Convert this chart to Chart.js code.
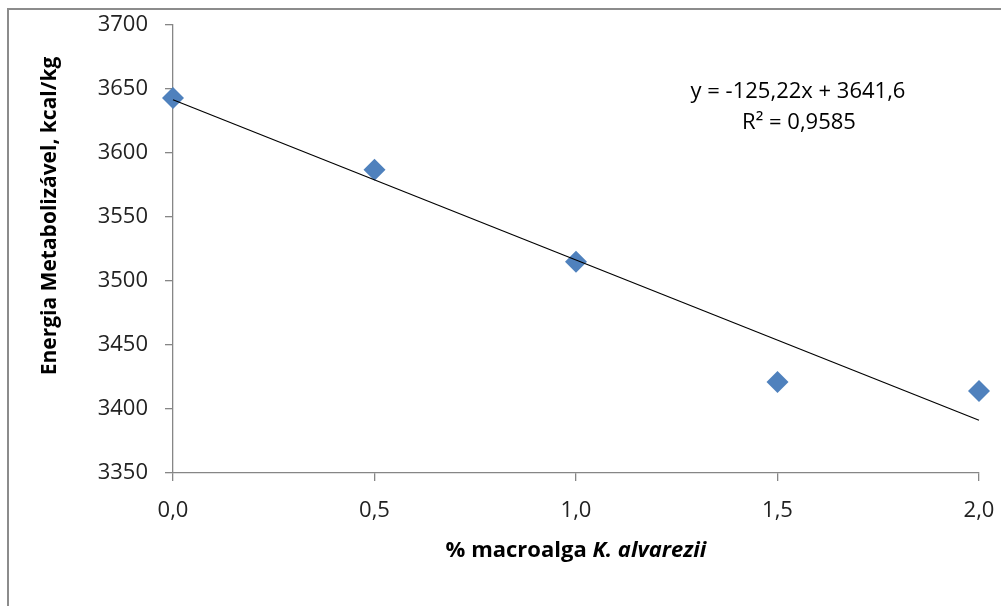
<!DOCTYPE html>
<html>
<head>
<meta charset="utf-8">
<script src="https://cdn.jsdelivr.net/npm/chart.js@4.4.0/dist/chart.umd.min.js"></script>
<style>
  body { margin: 0; background: #fff; }
  #wrap { width: 1001px; height: 606px; position: relative; }
</style>
</head>
<body>
<div id="wrap"><canvas id="chart"></canvas></div>
<script>
"use strict";

// data
var doses = [0, 0.5, 1.0, 1.5, 2.0];
var energia = [3643, 3587, 3515, 3421, 3414];

// trend line ends, from the equation printed on the chart
var trendX = [0, 2];
var trendY = [3641.6, 3391.16];

var eqLines = ["y = -125,22x + 3641,6", "R² = 0,9585"];
var yTitle = "Energia Metabolizável, kcal/kg";
var xTitleParts = [["% macroalga ", "bold 22px 'Open Sans'"], ["K. alvarezii", "italic bold 22px 'Open Sans'"]];

var axisGrey = "#868686";
var fontFam = "'Open Sans', sans-serif";

const $ = id => document.getElementById(id);

var toPoints = function(xs, ys) {
  var out = [];
  for (var i = 0; i < xs.length; i++) out.push({ x: xs[i], y: ys[i] });
  return out;
};

var decorations = {
  id: "decorations",
  beforeDraw: function(chart) {
    var ctx = chart.ctx;
    ctx.save();
    ctx.fillStyle = "#fff";
    ctx.fillRect(0, 0, chart.width, chart.height);
    ctx.strokeStyle = "#8c8c8c";
    ctx.lineWidth = 2;
    ctx.strokeRect(8, 9, 1200, 800);
    ctx.restore();
  },
  afterDraw: function(chart) {
    var ctx = chart.ctx;
    ctx.save();
    ctx.fillStyle = "#000";
    ctx.textBaseline = "middle";

    // y title
    ctx.save();
    ctx.translate(50, 216);
    ctx.rotate(-Math.PI / 2);
    ctx.textAlign = "center";
    ctx.font = "bold 21px " + fontFam;
    ctx.fillText(yTitle, 0, 0);
    ctx.restore();

    // x title, mixed styles
    var total = 0;
    xTitleParts.forEach(function(p) { ctx.font = p[1]; total += ctx.measureText(p[0]).width; });
    var x = 576 - total / 2;
    ctx.textAlign = "left";
    xTitleParts.forEach(function(p) {
      ctx.font = p[1];
      ctx.fillText(p[0], x, 551);
      x += ctx.measureText(p[0]).width;
    });

    // equation
    ctx.textAlign = "center";
    ctx.font = "22px " + fontFam;
    ctx.fillText(eqLines[0], 798, 92);
    ctx.fillText(eqLines[1], 799, 123);
    ctx.restore();
  }
};

var ctx = $("chart").getContext("2d");
var myChart = new Chart(ctx, {
  type: "scatter",
  data: {
    datasets: [{
      label: "EM",
      data: toPoints(doses, energia),
      pointStyle: "rectRot",
      pointRadius: 11,
      pointHoverRadius: 11,
      backgroundColor: "#4F81BD",
      borderColor: "#4F81BD",
      borderWidth: 0,
      clip: false,
      order: 1
    }, {
      label: "trend",
      type: "line",
      data: toPoints(trendX, trendY),
      borderColor: "#000",
      borderWidth: 1.2,
      pointRadius: 0,
      fill: false,
      clip: false,
      order: 0
    }]
  },
  options: {
    responsive: true,
    maintainAspectRatio: false,
    animation: false,
    layout: { autoPadding: false, padding: { left: 0, top: 25, right: 22, bottom: 0 } },
    plugins: { legend: { display: false }, tooltip: { enabled: false } },
    scales: {
      x: {
        type: "linear",
        min: 0,
        max: 2,
        afterFit: function(s) { s.height = 133; s.paddingLeft = 0; s.paddingRight = 0; },
        ticks: {
          stepSize: 0.5,
          padding: 17,
          color: "#222",
          font: { family: fontFam, size: 22 },
          callback: function(v) { return v.toFixed(1).replace(".", ","); }
        },
        grid: { drawOnChartArea: false, tickLength: 8, color: axisGrey, lineWidth: 1.3 },
        border: { color: axisGrey, width: 1.3 }
      },
      y: {
        min: 3350,
        max: 3700,
        afterFit: function(s) { s.width = 173; s.paddingTop = 0; s.paddingBottom = 0; },
        ticks: {
          stepSize: 50,
          padding: 17,
          color: "#222",
          font: { family: fontFam, size: 22 },
          callback: function(v) { return String(v); }
        },
        grid: { drawOnChartArea: false, tickLength: 8, color: axisGrey, lineWidth: 1.3 },
        border: { color: axisGrey, width: 1.3 }
      }
    }
  },
  plugins: [decorations]
});
</script>
</body>
</html>
